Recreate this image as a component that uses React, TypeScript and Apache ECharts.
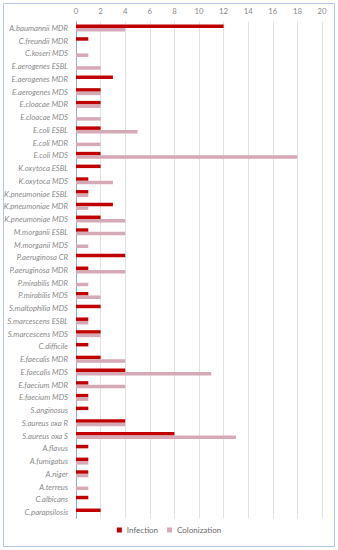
import React, { useEffect, useRef } from "react";
import * as echarts from "echarts";

const categories = [
  "A.baumannii MDR", "C.freundii MDR", "C.koseri MDS", "E.aerogenes ESBL", "E.aerogenes MDR",
  "E.aerogenes MDS", "E.cloacae MDR", "E.cloacae MDS", "E.coli ESBL", "E.coli MDR",
  "E.coli MDS", "K.oxytoca ESBL", "K.oxytoca MDS", "K.pneumoniae ESBL", "K.pneumoniae MDR",
  "K.pneumoniae MDS", "M.morganii ESBL", "M.morganii MDS", "P.aeruginosa CR", "P.aeruginosa MDR",
  "P.mirabilis MDR", "P.mirabilis MDS", "S.maltophilia MDS", "S.marcescens ESBL", "S.marcescens MDS",
  "C.difficile", "E.faecalis MDR", "E.faecalis MDS", "E.faecium MDR", "E.faecium MDS",
  "S.anginosus", "S.aureus oxa R", "S.aureus oxa S", "A.flavus", "A.fumigatus",
  "A.niger", "A.terreus", "C.albicans", "C.parapsilosis",
];

const infection = [
  12, 1, 0, 0, 3,
  2, 2, 0, 2, 0,
  2, 2, 1, 1, 3,
  2, 1, 0, 4, 1,
  0, 1, 2, 1, 2,
  1, 2, 4, 1, 1,
  1, 4, 8, 1, 1,
  1, 0, 1, 2,
];

const colonization = [
  4, 0, 1, 2, 0,
  2, 2, 2, 5, 2,
  18, 0, 3, 1, 1,
  4, 4, 1, 0, 4,
  1, 2, 0, 1, 2,
  0, 4, 11, 4, 1,
  0, 4, 13, 0, 1,
  1, 1, 0, 0,
];

const seriesNames = ["Infection", "Colonization"];

export default function App() {
  const ref = useRef<HTMLDivElement>(null);
  useEffect(() => {
    document.body.style.margin = "0";
    if (!ref.current) return;
    const chart = echarts.init(ref.current, null, { renderer: "svg" });
    chart.setOption({
      animation: false,
      textStyle: { fontFamily: "Lato" },
      graphic: [
        {
          type: "rect",
          shape: { x: 3.5, y: 3.5, width: 331, height: 543 },
          style: { fill: "none", stroke: "#b4c7e7", lineWidth: 1 },
          silent: true,
        },
      ],
      legend: {
        data: seriesNames,
        bottom: 11,
        left: "center",
        itemWidth: 5,
        itemHeight: 5,
        itemGap: 9,
        icon: "rect",
        textStyle: { fontSize: 8, color: "#6a6a6a", fontFamily: "Lato" },
      },
      grid: { left: 76, right: 16, top: 21.6, bottom: 31.6, containLabel: false },
      xAxis: {
        type: "value",
        position: "top",
        min: 0,
        max: 20,
        interval: 2,
        axisLine: { show: false },
        axisTick: { show: false },
        axisLabel: { color: "#8a8a8a", fontSize: 7.8, margin: 7, fontFamily: "Lato" },
        splitLine: { lineStyle: { color: "#e2e2e2", width: 1 } },
      },
      yAxis: {
        type: "category",
        inverse: true,
        data: categories,
        axisLine: { lineStyle: { color: "#8eaadb", width: 1 } },
        axisTick: { show: false },
        axisLabel: {
          color: "#8a8a8a",
          fontSize: 7.7,
          fontStyle: "italic",
          margin: 8,
          interval: 0,
          fontFamily: "Lato",
        },
      },
      series: [
        {
          name: seriesNames[0],
          type: "bar",
          data: infection,
          barWidth: 3.5,
          barGap: "0%",
          itemStyle: { color: "#c00000" },
        },
        {
          name: seriesNames[1],
          type: "bar",
          data: colonization,
          barWidth: 3.5,
          barGap: "0%",
          itemStyle: { color: "#d5a9b5" },
        },
      ],
    });
    return () => chart.dispose();
  }, []);
  return <div ref={ref} style={{ width: 338, height: 550 }} />;
}
